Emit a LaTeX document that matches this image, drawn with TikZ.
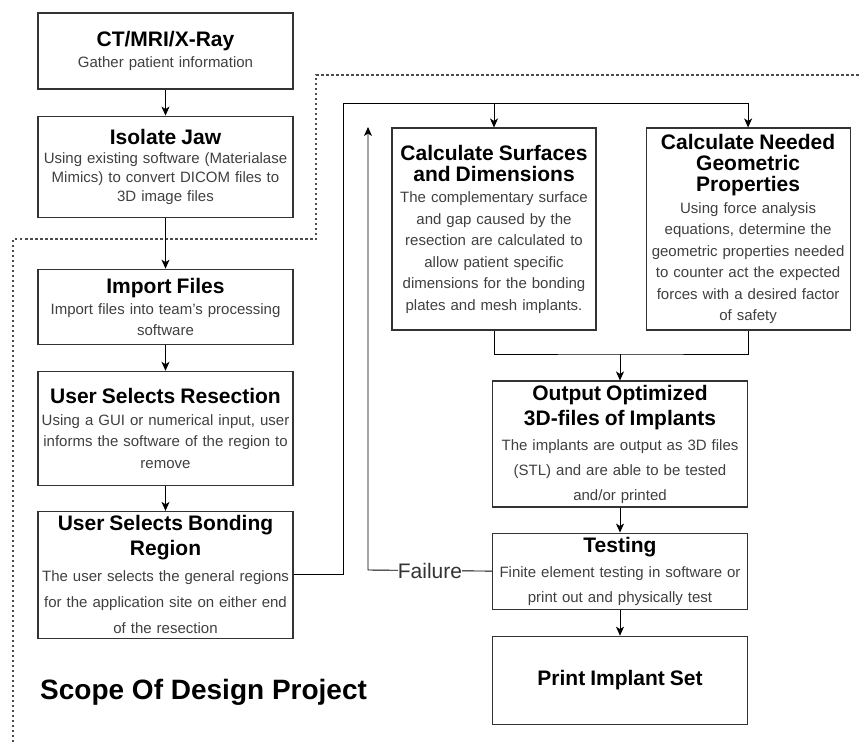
\documentclass[tikz,border=0pt]{standalone}
\usepackage{fontspec}
\setmainfont{Liberation Sans}
\usepackage{tikz}
\usetikzlibrary{arrows.meta, positioning}

\hyphenpenalty=10000
\newcommand{\hd}[2][22pt]{{\fontsize{21}{#1}\selectfont\bfseries\color{black}#2\par}}

\begin{document}
\begin{tikzpicture}[
  x=1pt, y=1pt,
  >={Stealth[length=9pt,width=8pt,inset=2.5pt]},
  procbox/.style={draw=black!80, line width=1.1pt, rectangle, fill=white, align=center, inner sep=0pt, text=black!75, font=\fontsize{15}{21}\selectfont},
  wide/.style={minimum width=255pt, text width=253pt},
  narrow/.style={minimum width=204pt, text width=200pt},
  bodyskip/.style={font=\fontsize{15}{#1}\selectfont},
  flow/.style={line width=0.9pt, black},
  scopeline/.style={line width=1.1pt, black!70, dash pattern=on 2.5pt off 2.5pt},
  faillabel/.style={fill=white, inner xsep=0pt, inner ysep=2pt, text=black!80, font=\fontsize{21}{21}\selectfont},
  titlelabel/.style={anchor=west, inner sep=0pt, font=\fontsize{28}{28}\selectfont\bfseries}
]
\useasboundingbox (0,0) rectangle (861,-742);

% Scope boundary
\coordinate (sc1) at (13,-742);
\coordinate (sc2) at (13,-239);
\coordinate (sc3) at (316,-239);
\coordinate (sc4) at (316,-75);
\coordinate (sc5) at (861,-75);
\draw[scopeline] (sc1) -- (sc2) -- (sc3) -- (sc4) -- (sc5);

% Left column
\node[procbox, wide, minimum height=76pt] (ct) at (165.5,-51)
  {\hd{CT/MRI/X-Ray}Gather patient information};
\node[procbox, wide, minimum height=101pt, bodyskip=19pt] (jaw) [below=26pt of ct]
  {\hd{Isolate Jaw}Using existing software (Materialase\\Mimics) to convert DICOM files to\\3D image files};
\node[procbox, wide, minimum height=75pt] (imp) [below=51pt of jaw]
  {\hd{Import Files}Import files into team's processing\\software};
\node[procbox, wide, minimum height=114pt, bodyskip=21.5pt] (res) [below=26pt of imp]
  {\hd{User Selects Resection}Using a GUI or numerical input, user\\informs the software of the region to\\remove};
\node[procbox, wide, minimum height=127pt, bodyskip=26pt] (bond) [below=25pt of res]
  {\hd[25pt]{User Selects Bonding\\Region}The user selects the general regions\\for the application site on either end\\of the resection};

% Calculation boxes
\node[procbox, narrow, minimum height=202pt, bodyskip=21.5pt] (surf) at (494,-229)
  {\hd[21pt]{Calculate Surfaces\\and Dimensions}The complementary surface\\and gap caused by the\\resection are calculated to\\allow patient specific\\dimensions for the bonding\\plates and mesh implants.};
\node[procbox, narrow, minimum height=202pt, bodyskip=21.5pt] (geom) [right=49pt of surf]
  {\hd[21pt]{Calculate Needed\\Geometric\\Properties}Using force analysis\\equations, determine the\\geometric properties needed\\to counter act the expected\\forces with a desired factor\\of safety};

% Output and testing
\node[procbox, wide, minimum height=126pt, bodyskip=25pt] (out) at (620,-444)
  {\hd[25pt]{Output Optimized\\3D-files of Implants}The implants are output as 3D files\\(STL) and are able to be tested\\and/or printed};
\node[procbox, wide, minimum height=76pt, bodyskip=25pt] (test) [below=25pt of out]
  {\hd{Testing}Finite element testing in software or\\print out and physically test};
\node[procbox, wide, minimum height=88pt] (print) [below=26pt of test]
  {\hd{Print Implant Set}};

\node[titlelabel] (title) at (40,-692) {Scope Of Design Project};

% Flows
\draw[flow, ->] (ct) -- (jaw);
\draw[flow, ->] (jaw) -- (imp);
\draw[flow, ->] (imp) -- (res);
\draw[flow, ->] (res) -- (bond);

\coordinate (splittop) at (343,-103);
\draw[flow, ->] (bond.east) -| (splittop) -| (geom.north);
\draw[flow, ->] (surf.north |- splittop) -- (surf.north);

\coordinate (merge) at (620,-354);
\draw[flow] (surf.south) |- (merge) -| (geom.south);
\draw[flow, ->] (merge) -- (out.north);
\draw[flow, ->] (out) -- (test);
\draw[flow, ->] (test) -- (print);

% Failure loop
\coordinate (failturn) at (368,-570);
\coordinate (failtop) at (368,-127);
\draw[flow, ->] (test.west) -- node[faillabel] (fail) {Failure} (failturn) -- (failtop);
\end{tikzpicture}
\end{document}
